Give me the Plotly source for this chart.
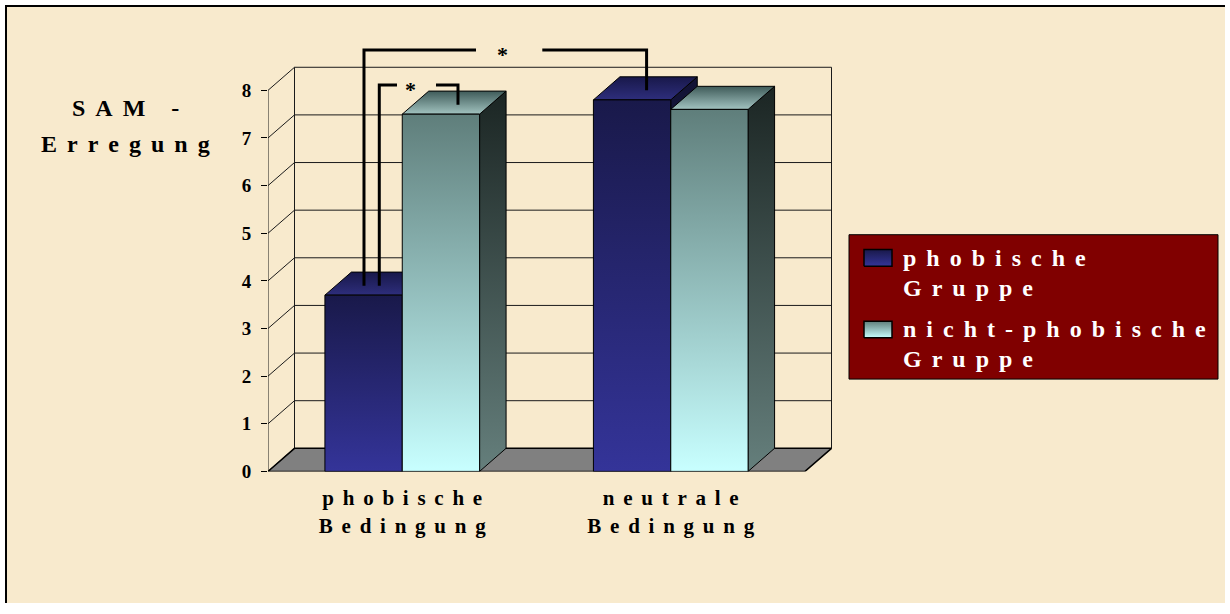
import plotly.graph_objects as go

# ---- data -------------------------------------------------------------
categories = ["phobische Bedingung", "neutrale Bedingung"]
series_names = ["phobische Gruppe", "nicht-phobische Gruppe"]
phobic_group = [3.7, 7.8]
nonphobic_group = [7.5, 7.6]
y_tick_values = [0, 1, 2, 3, 4, 5, 6, 7, 8]
y_title_lines = ["SAM -", "Erregung"]
star_label = "*"

# ---- page / scale geometry ---------------------------------------------
W, H = 1230, 614
PX_X = 268.5          # pixels per category unit
PX_Y = 48.5           # pixels per value unit
LEFT_PX, RIGHT_PX = 268, 842
BOTTOM_PX, TOP_PX = 480, 30
DX = 26.5 / PX_X      # 3-D depth offset (x units)
DY = 23.5 / PX_Y      # 3-D depth offset (value units)
BAR_W = 0.288
X_MIN = -0.5
X_MAX = X_MIN + (RIGHT_PX - LEFT_PX) / PX_X
Y_MAX = (BOTTOM_PX - TOP_PX) / PX_Y
N_CAT = len(categories)
FONT = "Liberation Serif"
GAP = "\u00a0\u2006"


def spaced(text):
    """Letter-spaced rendering of a label."""
    chars = ["\u00a0" if c == " " else c for c in text]
    return GAP.join(chars)


def px(x):
    return x / W


def py(y):
    return 1 - y / H


# face colours (bottom/front -> top/back)
STYLE = [
    dict(front=["#343499", "#19194a"], top=["#2e2e7c", "#18184a"],
         side=["#27276e", "#121234"]),
    dict(front=["#c8ffff", "#5f7e7b"], top=["#a2c3c0", "#3f5b59"],
         side=["#657f7c", "#1b2523"]),
]

fig = go.Figure()


def face(xs, ys, colors, xaxis="x", yaxis="y", width=1):
    fig.add_trace(go.Scatter(
        x=xs + [xs[0]], y=ys + [ys[0]], mode="lines", fill="toself",
        fillgradient=dict(type="vertical",
                          colorscale=[[0, colors[0]], [1, colors[1]]]),
        line=dict(color="black", width=width),
        xaxis=xaxis, yaxis=yaxis, hoverinfo="skip", showlegend=False))


# floor of the 3-D box
fig.add_trace(go.Scatter(
    x=[X_MIN, X_MIN + N_CAT, X_MIN + N_CAT + DX, X_MIN + DX, X_MIN],
    y=[0, 0, DY, DY, 0], mode="lines", fill="toself", fillcolor="#808080",
    line=dict(color="black", width=1.5), hoverinfo="skip", showlegend=False))

# bars: side, top and front face of each column
values = [phobic_group, nonphobic_group]
for i in range(N_CAT):
    for s, vals in enumerate(values):
        v = vals[i]
        xl = i - BAR_W + s * BAR_W
        xr = xl + BAR_W
        st = STYLE[s]
        face([xr, xr + DX, xr + DX, xr], [0, DY, v + DY, v], st["side"])
        face([xl, xr, xr + DX, xl + DX], [v, v, v + DY, v + DY], st["top"])
        face([xl, xr, xr, xl], [0, 0, v, v], st["front"])

shapes = []
# page background and frame
shapes.append(dict(type="rect", xref="paper", yref="paper", x0=px(6), x1=px(1225),
                   y0=0, y1=py(6), fillcolor="#f8eacd", line_width=0, layer="below"))
shapes.append(dict(type="line", xref="paper", yref="paper", x0=px(5), x1=px(1225),
                   y0=py(6), y1=py(6), line=dict(color="black", width=2)))
shapes.append(dict(type="line", xref="paper", yref="paper", x0=px(6), x1=px(6),
                   y0=0, y1=py(5), line=dict(color="black", width=2)))

grid = dict(color="#1a1a1a", width=1)
top_v = y_tick_values[-1]
# front value axis line
shapes.append(dict(type="line", x0=X_MIN, x1=X_MIN, y0=0, y1=top_v,
                   line=grid, layer="below"))
# side wall diagonals and back wall gridlines
for v in y_tick_values:
    shapes.append(dict(type="line", x0=X_MIN, x1=X_MIN + DX, y0=v, y1=v + DY,
                       line=grid, layer="below"))
    if v > 0:
        shapes.append(dict(type="line", x0=X_MIN + DX, x1=X_MIN + N_CAT + DX,
                           y0=v + DY, y1=v + DY, line=grid, layer="below"))
# back wall edges
shapes.append(dict(type="line", x0=X_MIN + DX, x1=X_MIN + DX, y0=DY, y1=top_v + DY,
                   line=grid, layer="below"))
shapes.append(dict(type="line", x0=X_MIN + N_CAT + DX, x1=X_MIN + N_CAT + DX,
                   y0=DY, y1=top_v + DY, line=grid, layer="below"))

# significance brackets: left leg, right leg, bar heights, top level, text gap
brackets = [
    dict(xl=-0.1425, xr=0.910, vl=phobic_group[0], vr=phobic_group[1],
         top=8.845, g0=0.2747, g1=0.5216, star=0.374),
    dict(xl=-0.0855, xr=0.2076, vl=phobic_group[0], vr=nonphobic_group[0],
         top=8.11, g0=-0.0196, g1=0.1257, star=0.0315),
]
annotations = []
for b in brackets:
    leg = 0.2
    shapes.append(dict(type="path",
                       path=f"M{b['xl']},{b['vl'] + leg} L{b['xl']},{b['top']} L{b['g0']},{b['top']}",
                       line=dict(color="black", width=3)))
    shapes.append(dict(type="path",
                       path=f"M{b['g1']},{b['top']} L{b['xr']},{b['top']} L{b['xr']},{b['vr'] + leg}",
                       line=dict(color="black", width=3)))
    annotations.append(dict(x=b["star"], y=b["top"] - 4 / PX_Y, xref="x", yref="y",
                            text=star_label, showarrow=False, xanchor="center",
                            yanchor="middle",
                            font=dict(family=FONT, size=22, color="black", weight="bold")))

# value-axis title
for line, base in zip(y_title_lines, [118, 155]):
    annotations.append(dict(x=px(126), y=py(base - 8), xref="paper", yref="paper",
                            text="<b>" + spaced(line) + "</b>", showarrow=False,
                            xanchor="center", yanchor="middle",
                            font=dict(family=FONT, size=24, color="black")))

# legend box
LEG = dict(x0=849, x1=1218, y0=239, y1=386)
shapes.append(dict(type="rect", xref="paper", yref="paper",
                   x0=px(LEG["x0"]), x1=px(LEG["x1"]), y0=py(LEG["y1"]), y1=py(LEG["y0"]),
                   fillcolor="#800000", line=dict(color="black", width=1), layer="below"))
swatch_tops = [254, 327]
text_bases = [(271, 301), (343, 374)]
for s, name in enumerate(series_names):
    t = swatch_tops[s]
    face([864, 892, 892, 864], [H - (t + 17), H - (t + 17), H - t, H - t],
         STYLE[s]["front"], xaxis="x3", yaxis="y3", width=1.5)
    words = name.split(" ")
    for word, base in zip(words, text_bases[s]):
        annotations.append(dict(x=px(901), y=py(base - 8), xref="paper", yref="paper",
                                text="<b>" + spaced(word) + "</b>", showarrow=False,
                                xanchor="left", yanchor="middle",
                                font=dict(family=FONT, size=24, color="white")))

cat_text = ["<b>" + "<br>".join(spaced(w) for w in c.split(" ")) + "</b>" for c in categories]

fig.update_layout(
    width=W, height=H,
    margin=dict(l=0, r=0, t=0, b=0),
    paper_bgcolor="white",
    plot_bgcolor="rgba(0,0,0,0)",
    showlegend=False,
    shapes=shapes,
    annotations=annotations,
    xaxis=dict(domain=[px(LEFT_PX), px(RIGHT_PX)], range=[X_MIN, X_MAX],
               tickvals=list(range(N_CAT)), ticktext=cat_text, ticks="",
               showgrid=False, zeroline=False, showline=False, anchor="y",
               tickfont=dict(family=FONT, size=21, color="black"),
               ticklabelstandoff=12),
    xaxis2=dict(overlaying="x", range=[X_MIN, X_MAX], anchor="y", side="bottom",
                tickvals=[X_MIN + k for k in range(N_CAT + 1)], ticks="outside",
                ticklen=7, tickwidth=1, tickcolor="black", showticklabels=False,
                showgrid=False, zeroline=False, showline=False),
    yaxis=dict(domain=[py(BOTTOM_PX), py(TOP_PX)], range=[0, Y_MAX],
               tickvals=y_tick_values, ticks="outside", ticklen=6, tickwidth=1,
               tickcolor="black", showgrid=False, zeroline=False, showline=False,
               tickfont=dict(family=FONT, size=19, color="black", weight="bold"),
               ticklabelstandoff=6, anchor="x"),
    xaxis3=dict(domain=[px(LEG["x0"]), px(LEG["x1"])], range=[LEG["x0"], LEG["x1"]],
                visible=False, anchor="y3"),
    yaxis3=dict(domain=[py(LEG["y1"]), py(LEG["y0"])], range=[H - LEG["y1"], H - LEG["y0"]],
                visible=False, anchor="x3"),
)

fig.write_html("out.html")
